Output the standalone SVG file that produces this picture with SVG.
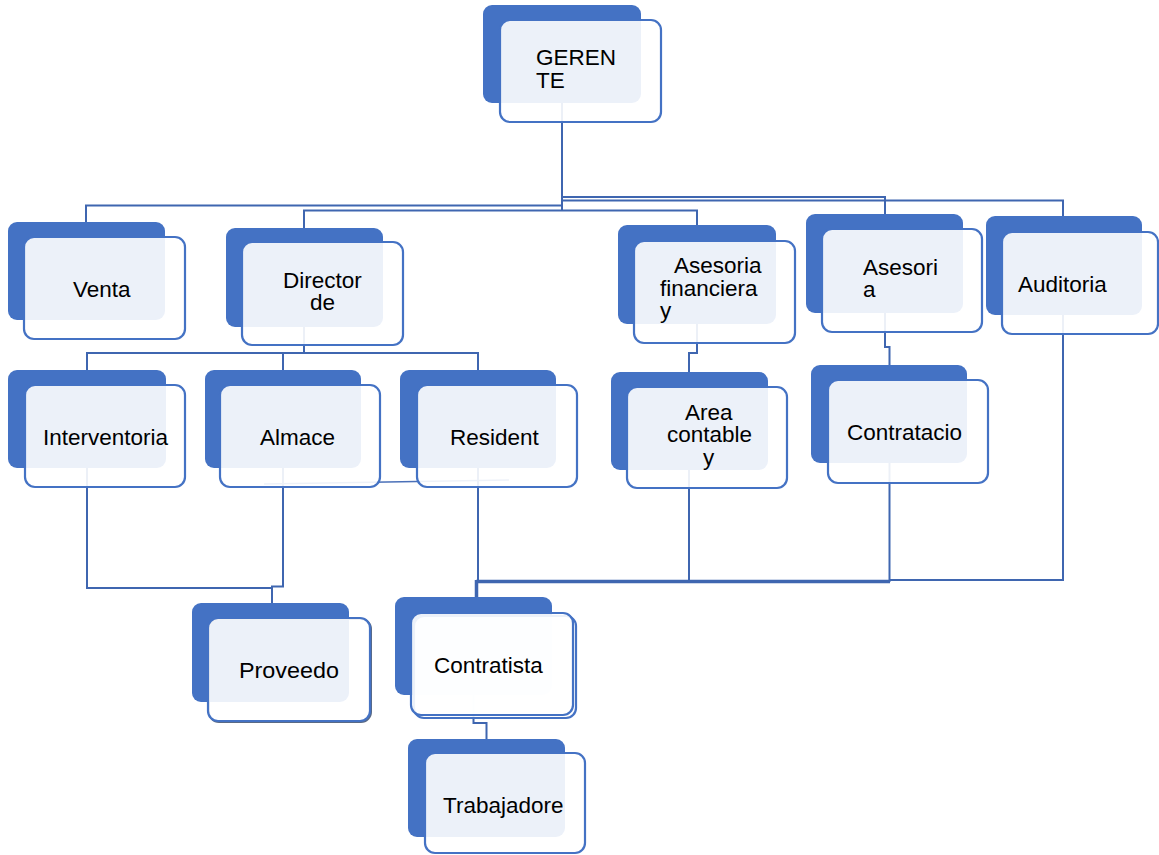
<svg xmlns="http://www.w3.org/2000/svg" width="1159" height="855" viewBox="0 0 1159 855">
  <style>
    .back { fill: #4472C4; }
    .front { fill: #FFFFFF; fill-opacity: 0.9; stroke: #4472C4; stroke-width: 2.2; }
    .shadow { fill: none; stroke: #5A6A85; stroke-width: 2; }
    .lbl { font-family: "Liberation Sans", Arial, sans-serif; font-size: 22.5px; fill: #000000; }
    .wire { fill: none; stroke: #3F66B0; stroke-width: 2; }
    .wire-bold { fill: none; stroke: #3F66B0; stroke-width: 3.5; }
    .wire-thin { fill: none; stroke: #4A70B8; stroke-width: 1.4; }
  </style>
  <rect width="1159" height="855" fill="#FFFFFF"/>

  <!-- connectors sit under the nodes so they show faintly through the card fill -->
  <g id="connectors">
    <!-- GERENTE trunk and top branches -->
    <path class="wire" d="M562,103 V210"/>
    <path class="wire" d="M562,205.5 H86 V222"/>
    <path class="wire" d="M304,228 V210.5 H697 V225"/>
    <path class="wire" d="M562,197 H885 V214"/>
    <path class="wire" d="M562,200.5 H1063 V216"/>
    <!-- Director de to second row -->
    <path class="wire" d="M304,327 V353 M87,370 V353 H478 V370 M283,353 V370"/>
    <!-- Asesoria financiera to Area contable -->
    <path class="wire" d="M697,324 V353 H689 V372"/>
    <!-- Asesoria to Contratacion -->
    <path class="wire" d="M885,313 V347 H889.5 V365"/>
    <!-- Interventoria / Almacen to Proveedor -->
    <path class="wire" d="M87,468 V588 H272 M283,468 V586.5 H272 V603"/>
    <!-- stray line across Almacen and Residente -->
    <path class="wire-thin" d="M264,484 L509,480"/>
    <!-- collector towards Contratista -->
    <path class="wire" d="M478,468 V581"/>
    <path class="wire" d="M689,470 V581"/>
    <path class="wire" d="M889.5,463 V582"/>
    <path class="wire" d="M1063,315 V580 H889.5"/>
    <path class="wire-bold" d="M476,581.5 H890 M476.5,580 V597"/>
    <!-- Contratista to Trabajadores -->
    <path class="wire" d="M473.5,695 V723 H486.5 V739"/>
  </g>

  <g id="gerente">
    <rect class="back" x="483" y="5" width="158" height="98" rx="9"/>
    <rect class="front" x="500" y="20" width="161" height="102" rx="10"/>
    <text class="lbl"><tspan x="536" y="65">GEREN</tspan><tspan x="536" y="88">TE</tspan></text>
  </g>

  <g id="venta">
    <rect class="back" x="8" y="222" width="157" height="98" rx="9"/>
    <rect class="front" x="24" y="237" width="161" height="102" rx="10"/>
    <text class="lbl" x="73" y="297">Venta</text>
  </g>

  <g id="director">
    <rect class="back" x="226" y="228" width="157" height="99" rx="9"/>
    <rect class="front" x="242" y="242" width="161" height="103" rx="10"/>
    <text class="lbl"><tspan x="283" y="288">Director</tspan><tspan x="310" y="310">de</tspan></text>
  </g>

  <g id="asesoria-financiera">
    <rect class="back" x="618" y="225" width="158" height="99" rx="9"/>
    <rect class="front" x="634" y="241" width="161" height="102" rx="10"/>
    <text class="lbl"><tspan x="674" y="273">Asesoria</tspan><tspan x="660" y="296">financiera</tspan><tspan x="660" y="318">y</tspan></text>
  </g>

  <g id="asesoria">
    <rect class="back" x="806" y="214" width="157" height="99" rx="9"/>
    <rect class="front" x="822" y="229" width="160" height="103" rx="10"/>
    <text class="lbl"><tspan x="863" y="275">Asesori</tspan><tspan x="863" y="297">a</tspan></text>
  </g>

  <g id="auditoria">
    <rect class="back" x="986" y="216" width="156" height="99" rx="9"/>
    <rect class="front" x="1002" y="232" width="156" height="102" rx="10"/>
    <text class="lbl" x="1018" y="292">Auditoria</text>
  </g>

  <g id="interventoria">
    <rect class="back" x="8" y="370" width="158" height="98" rx="9"/>
    <rect class="front" x="25" y="385" width="160" height="102" rx="10"/>
    <text class="lbl" x="43" y="445">Interventoria</text>
  </g>

  <g id="almacen">
    <rect class="back" x="205" y="370" width="156" height="98" rx="9"/>
    <rect class="front" x="220" y="385" width="160" height="102" rx="10"/>
    <text class="lbl" x="260" y="445">Almace</text>
  </g>

  <g id="residente">
    <rect class="back" x="400" y="370" width="156" height="98" rx="9"/>
    <rect class="front" x="417" y="385" width="160" height="102" rx="10"/>
    <text class="lbl" x="450" y="445">Resident</text>
  </g>

  <g id="area-contable">
    <rect class="back" x="611" y="372" width="157" height="98" rx="9"/>
    <rect class="front" x="627" y="387" width="160" height="101" rx="10"/>
    <text class="lbl"><tspan x="685" y="420">Area</tspan><tspan x="667" y="442">contable</tspan><tspan x="703" y="465">y</tspan></text>
  </g>

  <g id="contratacion">
    <rect class="back" x="811" y="365" width="156" height="98" rx="9"/>
    <rect class="front" x="828" y="380" width="160" height="103" rx="10"/>
    <text class="lbl" x="847" y="440">Contratacio</text>
  </g>

  <g id="proveedor">
    <rect class="back" x="192" y="603" width="157" height="99" rx="9"/>
    <rect class="shadow" x="209" y="619" width="162" height="103" rx="10"/>
    <rect class="front" x="208" y="618" width="162" height="103" rx="10"/>
    <text class="lbl" x="239" y="678" textLength="100" lengthAdjust="spacingAndGlyphs">Proveedo</text>
  </g>

  <g id="contratista">
    <rect class="back" x="395" y="597" width="157" height="98" rx="9"/>
    <rect class="front" x="414" y="616" width="162" height="102" rx="10"/>
    <rect class="front" x="411" y="613" width="162" height="102" rx="10"/>
    <text class="lbl" x="434" y="673">Contratista</text>
  </g>

  <g id="trabajadores">
    <rect class="back" x="408" y="739" width="157" height="98" rx="9"/>
    <rect class="front" x="425" y="753" width="160" height="100" rx="10"/>
    <text class="lbl" x="443" y="813">Trabajadore</text>
  </g>
</svg>
